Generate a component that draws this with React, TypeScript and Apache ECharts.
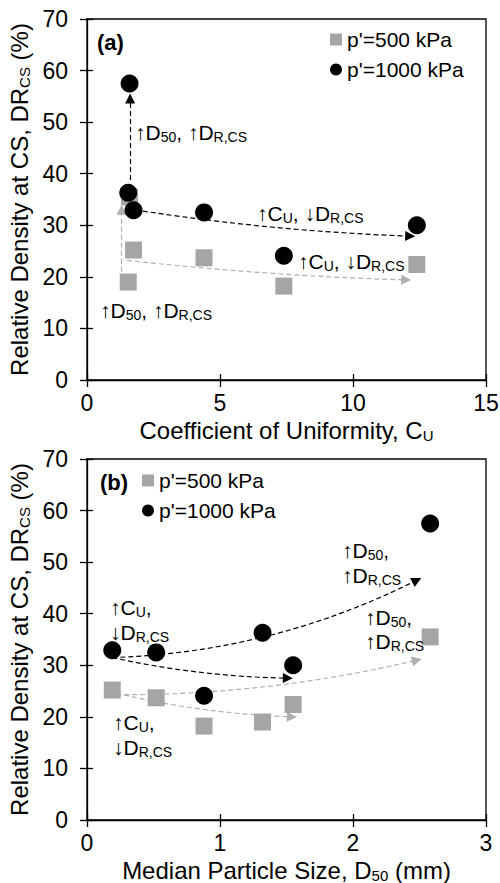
import React, { useEffect, useRef } from 'react';
import * as echarts from 'echarts';

// ---------------- data ----------------
const legendNames = ["p'=500 kPa", "p'=1000 kPa"];
const cuValues = [1.55, 1.6, 1.75, 4.4, 7.4, 12.4];
const d50Values = [1.32, 2.58, 0.19, 0.52, 0.88, 1.55];
const dr500 = [19.0, 35.5, 25.2, 23.7, 18.2, 22.4];
const dr1000 = [36.3, 57.5, 32.9, 32.5, 24.1, 30.0];

const yRange = [0, 70, 10];
const cuRange = [0, 15, 5];
const d50Range = [0, 3, 1];

// trend arrows: [from, to, curveness]
const arrowsABlack: [number[], number[], number][] = [
  [[1.62, 38.8], [1.62, 54.6], 0],
  [[1.8, 33.0], [12.15, 27.9], -0.03],
];
const arrowsAGray: [number[], number[], number][] = [
  [[1.3, 21.0], [1.3, 33.0], 0],
  [[1.5, 23.2], [12.0, 19.4], -0.02],
];
const arrowsBBlack: [number[], number[], number][] = [
  [[0.19, 31.5], [2.48, 46.5], -0.11],
  [[0.19, 31.5], [1.51, 27.5], -0.05],
];
const arrowsBGray: [number[], number[], number][] = [
  [[0.22, 24.3], [2.48, 31.0], -0.06],
  [[0.22, 24.6], [1.54, 20.0], -0.05],
];

const FONT = "'Liberation Sans', Arial, sans-serif";
const GRAY = '#A5A5A5';
const GRAY_LINE = '#B0B0B0';

const gridA = { left: 87, top: 19, width: 399, height: 361 };
const gridB = { left: 87, top: 459, width: 399, height: 361 };

function axisPair(dim: 'x' | 'y', gridIndex: number, range: number[], name: string) {
  const lineStyle = { color: '#000', width: 1.3 };
  const common: any = {
    type: 'value',
    gridIndex,
    min: range[0],
    max: range[1],
    interval: range[2],
    position: dim === 'x' ? 'bottom' : 'left',
    splitLine: { show: false },
  };
  const main = {
    ...common,
    name,
    nameLocation: 'middle',
    nameGap: dim === 'x' ? 38 : 54,
    nameTextStyle: {
      fontSize: 24,
      color: '#000',
      fontFamily: FONT,
      rich: { sub: { fontSize: 15, color: '#000', fontFamily: FONT, padding: [10, 0, 0, 0] } },
    },
    axisLine: { show: true, lineStyle },
    axisTick: { show: true, inside: true, length: 6, lineStyle },
    axisLabel: { fontSize: 23, color: '#000', fontFamily: FONT, margin: dim === 'x' ? 11 : 19 },
  };
  const dup = {
    ...common,
    axisLine: { show: false },
    axisTick: { show: true, inside: false, length: 7, lineStyle },
    axisLabel: { show: false },
  };
  return [main, dup];
}

function arrowSeries(arrows: [number[], number[], number][], axisIndex: number, color: string) {
  return {
    type: 'lines',
    coordinateSystem: 'cartesian2d',
    xAxisIndex: axisIndex,
    yAxisIndex: axisIndex,
    polyline: false,
    silent: true,
    z: 2,
    symbol: ['none', 'triangle'],
    symbolSize: 10,
    lineStyle: { color, width: 1.2, type: [5, 3], opacity: 1 },
    data: arrows.map(([a, b, c]) => ({ coords: [a, b], lineStyle: { curveness: c } })),
  };
}

const subRich = { s: { fontSize: 14, fontFamily: FONT, fill: '#000', padding: [9, 0, 0, 0] } };

function note(x: number, y: number, text: string, bold = false) {
  return {
    type: 'text',
    x,
    y,
    z: 10,
    style: {
      text,
      fontSize: bold ? 22 : 21,
      fontWeight: bold ? 'bold' : 'normal',
      fontFamily: FONT,
      fill: '#000',
      align: 'left',
      verticalAlign: 'middle',
      rich: subRich,
    },
  };
}

function legendAt(left: number, top: number) {
  return {
    data: legendNames,
    orient: 'vertical',
    left,
    top,
    padding: 0,
    itemWidth: 12,
    itemHeight: 12,
    itemGap: 9,
    selectedMode: false,
    textStyle: { fontSize: 21, color: '#000', fontFamily: FONT },
  };
}

export default function App() {
  const ref = useRef<HTMLDivElement>(null);
  useEffect(() => {
    document.body.style.margin = '0';
    const chart = echarts.init(ref.current!, null, { renderer: 'svg' });
    const [xa, xad] = axisPair('x', 0, cuRange, 'Coefficient of Uniformity, C{sub|U}');
    const [xb, xbd] = axisPair('x', 1, d50Range, 'Median Particle Size, D{sub|50} (mm)');
    const [ya, yad] = axisPair('y', 0, yRange, 'Relative Density at CS, DR{sub|CS} (%)');
    const [yb, ybd] = axisPair('y', 1, yRange, 'Relative Density at CS, DR{sub|CS} (%)');
    const option: any = {
      animation: false,
      backgroundColor: '#fff',
      textStyle: { fontFamily: FONT },
      grid: [
        { ...gridA, show: true, borderColor: '#000', borderWidth: 1.3, outerBoundsMode: 'none', containLabel: false },
        { ...gridB, show: true, borderColor: '#000', borderWidth: 1.3, outerBoundsMode: 'none', containLabel: false },
      ],
      xAxis: [xa, xad, xb, xbd],
      yAxis: [ya, yad, yb, ybd],
      legend: [legendAt(330, 29), legendAt(142, 470)],
      series: [
        arrowSeries(arrowsAGray, 0, GRAY_LINE),
        arrowSeries(arrowsABlack, 0, '#000'),
        arrowSeries(arrowsBGray, 2, GRAY_LINE),
        arrowSeries(arrowsBBlack, 2, '#000'),
        {
          type: 'scatter', name: legendNames[0], xAxisIndex: 0, yAxisIndex: 0, z: 3,
          symbol: 'rect', symbolSize: 17, itemStyle: { color: GRAY, opacity: 1 },
          data: cuValues.map((c, i) => [c, dr500[i]]),
        },
        {
          type: 'scatter', name: legendNames[1], xAxisIndex: 0, yAxisIndex: 0, z: 4,
          symbol: 'circle', symbolSize: 18, itemStyle: { color: '#000', opacity: 1 },
          data: cuValues.map((c, i) => [c, dr1000[i]]),
        },
        {
          type: 'scatter', name: legendNames[0], xAxisIndex: 2, yAxisIndex: 2, z: 3,
          symbol: 'rect', symbolSize: 17, itemStyle: { color: GRAY, opacity: 1 },
          data: d50Values.map((d, i) => [d, dr500[i]]),
        },
        {
          type: 'scatter', name: legendNames[1], xAxisIndex: 2, yAxisIndex: 2, z: 4,
          symbol: 'circle', symbolSize: 18, itemStyle: { color: '#000', opacity: 1 },
          data: d50Values.map((d, i) => [d, dr1000[i]]),
        },
      ],
      graphic: [
        note(97, 42, '(a)', true),
        note(100, 482, '(b)', true),
        note(135, 132, '↑D{s|50}, ↑D{s|R,CS}'),
        note(257, 213, '↑C{s|U}, ↓D{s|R,CS}'),
        note(298, 261, '↑C{s|U}, ↓D{s|R,CS}'),
        note(100, 310, '↑D{s|50}, ↑D{s|R,CS}'),
        note(110, 607, '↑C{s|U},'),
        note(110, 632, '↓D{s|R,CS}'),
        note(342, 550, '↑D{s|50},'),
        note(342, 575, '↑D{s|R,CS}'),
        note(365, 617, '↑D{s|50},'),
        note(365, 641, '↑D{s|R,CS}'),
        note(113, 722, '↑C{s|U},'),
        note(113, 747, '↓D{s|R,CS}'),
      ],
    };
    chart.setOption(option);
    return () => chart.dispose();
  }, []);
  return (
    <div
      ref={ref}
      style={{ position: 'absolute', left: 0, top: 0, width: 500, height: 883, background: '#fff' }}
    />
  );
}
